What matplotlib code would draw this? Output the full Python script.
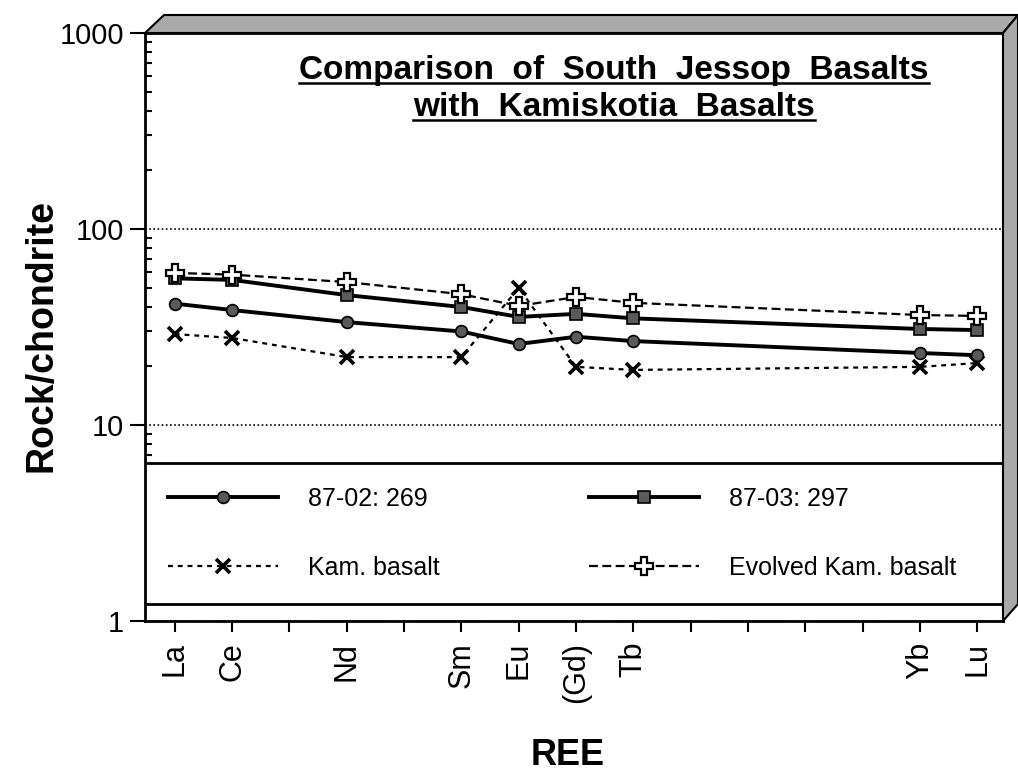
import matplotlib
matplotlib.use("Agg")
import matplotlib.pyplot as plt
from matplotlib.patches import Polygon, Rectangle
from matplotlib.lines import Line2D

# ---- data ----
ree_elements = ["La", "Ce", "Pr", "Nd", "Pm", "Sm", "Eu", "Gd", "Tb", "Dy", "Ho", "Er", "Tm", "Yb", "Lu"]
tick_labels = ["La", "Ce", "", "Nd", "", "Sm", "Eu", "(Gd)", "Tb", "", "", "", "", "Yb", "Lu"]
plotted = ["La", "Ce", "Nd", "Sm", "Eu", "Gd", "Tb", "Yb", "Lu"]

s_87_02 = [41.6, 38.6, 33.5, 30.0, 25.9, 28.2, 26.8, 23.3, 22.7]
s_87_03 = [56.0, 55.0, 46.0, 40.0, 35.6, 36.9, 35.0, 30.9, 30.5]
kam_basalt = [29.1, 27.8, 22.2, 22.2, 50.0, 19.8, 19.1, 19.8, 20.7]
evolved_kam = [59.7, 58.5, 53.6, 46.5, 40.5, 45.0, 42.0, 36.4, 36.0]

series_labels = ["87-02: 269", "87-03: 297", "Kam. basalt", "Evolved Kam. basalt"]
y_ticks = [1, 10, 100, 1000]
y_tick_labels = ["1", "10", "100", "1000"]

title_lines = ["Comparison  of  South  Jessop  Basalts", "with  Kamiskotia  Basalts"]

# ---- figure ----
W, H = 1018, 773
fig = plt.figure(figsize=(W / 100, H / 100), dpi=100)
FONT = "Liberation Sans"
plt.rcParams["font.family"] = [FONT, "DejaVu Sans"]

def px(x, y):
    return (x / W, 1 - y / H)

ax_l, ax_r, ax_t, ax_b = 145, 1003, 33, 621
ax = fig.add_axes([ax_l / W, 1 - ax_b / H, (ax_r - ax_l) / W, (ax_b - ax_t) / H])

xpos = [ree_elements.index(e) for e in plotted]

ax.plot(xpos, kam_basalt, color="black", lw=1.6, dashes=(2.2, 2.2),
        marker="x", markersize=10, mew=2.6, mec="black", zorder=3, label=series_labels[2])
ax.plot(xpos, s_87_02, color="black", lw=2.8, marker="o", markersize=8.5,
        mfc="#5a5a5a", mec="black", mew=1.2, zorder=4, label=series_labels[0])
ax.plot(xpos, s_87_03, color="black", lw=2.8, marker="s", markersize=8,
        mfc="#5a5a5a", mec="black", mew=1.2, zorder=4, label=series_labels[1])
ax.plot(xpos, evolved_kam, color="black", lw=1.6, dashes=(4, 2),
        marker="P", markersize=13, mfc="white", mec="black", mew=1.6, zorder=5, label=series_labels[3])

ax.set_yscale("log")
ax.set_ylim(1, 1000)
ax.set_xlim(-0.52, 14.45)

ax.set_yticks(y_ticks)
ax.set_yticklabels(y_tick_labels, fontsize=21, family=FONT)
ax.tick_params(axis="y", which="major", direction="out", length=11, width=1.5, pad=4)
ax.tick_params(axis="y", which="minor", direction="in", length=5, width=1.5)
ax.set_xticks(range(len(ree_elements)))
ax.set_xticklabels(tick_labels, rotation=90, fontsize=22, family=FONT, va="top")
ax.tick_params(axis="x", which="major", direction="out", length=8, width=1.5, pad=7)
ax.tick_params(axis="x", which="minor", bottom=False)

ax.yaxis.grid(True, which="major", linestyle=(0, (1, 1.5)), color="black", lw=1.2)
ax.set_axisbelow(True)
for s in ax.spines.values():
    s.set_linewidth(2)
    s.set_color("black")

# legend box
ax.add_patch(Rectangle((0, (ax_b - 604) / (ax_b - ax_t)), 1,
                       (604 - 463) / (ax_b - ax_t), transform=ax.transAxes,
                       facecolor="white", edgecolor="black", lw=2, zorder=6))
h, l = ax.get_legend_handles_labels()
lab_map = dict(zip(l, h))
hh = [lab_map[series_labels[i]] for i in [0, 2, 1, 3]]
ll = [series_labels[i] for i in [0, 2, 1, 3]]
leg = ax.legend(hh, ll, ncol=2, loc="center left",
                bbox_to_anchor=(10 / (ax_r - ax_l), ((ax_b - 604) + (604 - 463) / 2) / (ax_b - ax_t)),
                frameon=False, borderpad=0, prop={"family": FONT, "size": 18},
                handlelength=4.4, handletextpad=1.2, columnspacing=6.0,
                labelspacing=1.8, numpoints=1)
leg.set_zorder(7)

# 3D gray bands
band_kw = dict(facecolor="#a9a9a9", edgecolor="black", lw=1.5, transform=fig.transFigure, zorder=10)
fig.patches.append(Polygon([px(145, 33), px(164, 15), px(1018, 15), px(1003, 33)], **band_kw))
fig.patches.append(Polygon([px(1003, 33), px(1018, 15), px(1018, 604), px(1003, 621)], **band_kw))

# axis labels
fig.text(*px(42, 336), "Rock/chondrite", rotation=90, ha="center", va="center",
         fontsize=27, fontweight="bold", family=FONT)
fig.text(*px(568, 765), "REE", ha="center", va="baseline",
         fontsize=26, fontweight="bold", family=FONT)

# title with underline
tx = (614 - ax_l) / (ax_r - ax_l)
t1 = ax.text(tx, (ax_b - 79) / (ax_b - ax_t), title_lines[0], transform=ax.transAxes,
             ha="center", va="baseline", fontsize=24, fontweight="bold", family=FONT, zorder=8)
t2 = ax.text(tx, (ax_b - 116) / (ax_b - ax_t), title_lines[1], transform=ax.transAxes,
             ha="center", va="baseline", fontsize=24, fontweight="bold", family=FONT, zorder=8)
fig.canvas.draw()
r = fig.canvas.get_renderer()
for t, base in [(t1, 79), (t2, 116)]:
    bb = t.get_window_extent(r)
    x0, x1 = bb.x0 / W, bb.x1 / W
    yy = 1 - (base + 4) / H
    fig.add_artist(Line2D([x0, x1], [yy, yy], transform=fig.transFigure, color="black", lw=1.8))

fig.savefig("out.png", dpi=100)
